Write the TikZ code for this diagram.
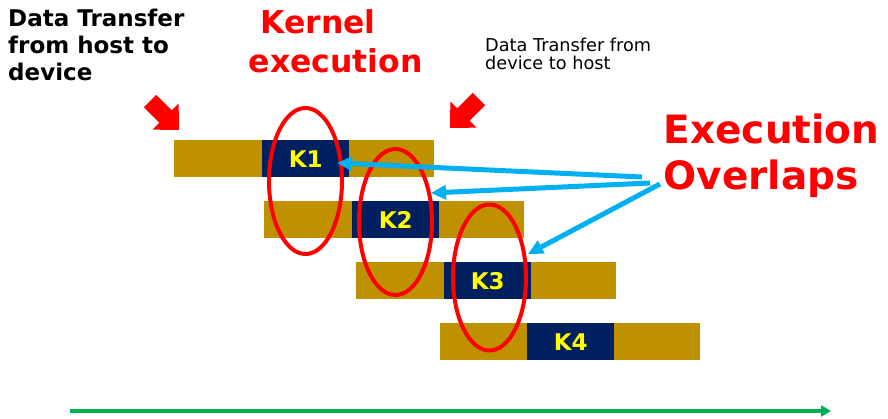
\documentclass[tikz,border=0pt]{standalone}
\usepackage{fontspec}
\setmainfont{DejaVu Sans}
\usetikzlibrary{arrows.meta, shapes.geometric}
\definecolor{BarGold}{RGB}{191, 144, 0}
\definecolor{KernelNavy}{RGB}{0, 32, 96}
\definecolor{KernelYellow}{RGB}{255, 255, 0}
\definecolor{OverlapRed}{RGB}{255, 0, 0}
\definecolor{PointerBlue}{RGB}{0, 176, 240}
\definecolor{TimeGreen}{RGB}{0, 176, 80}

\begin{document}
\begin{tikzpicture}[
        x=1pt, y=-1pt,
        bar/.style={fill=BarGold, minimum width=260pt, minimum height=37pt, inner sep=0pt, anchor=north west},
        kern/.style={fill=KernelNavy, text=KernelYellow, font=\fontsize{23}{27}\selectfont\bfseries, minimum width=87pt, minimum height=37pt, inner sep=0pt, anchor=north west},
        overlap/.style={ellipse, draw=OverlapRed, line width=4pt, minimum width=73pt, minimum height=146pt, inner sep=0pt},
        pointer/.style={draw=PointerBlue, line width=5pt, -{Triangle[length=15pt, width=14pt]}},
        timeline/.style={draw=TimeGreen, line width=4pt, -{Triangle[length=10pt, width=11pt]}},
        note/.style={inner sep=0pt, anchor=north west, align=left},
        blockarrow/.pic={\fill[OverlapRed] (0,0) -- (-19,18.5) -- (-19,8.8) -- (-41,8.8) -- (-41,-8.8) -- (-19,-8.8) -- (-19,-18.5) -- cycle;}
    ]
        \useasboundingbox (0,0) rectangle (888,419);

        % transfer bars with kernels
        \foreach \gx/\kx [count=\i] in {174/262, 264/352, 356/444, 440/527} {
            \node[bar] (bar\i) at (\gx, {140+61*(\i-1)}) {};
            \node[kern] (k\i) at (\kx, {140+61*(\i-1)}) {K\i};
        }

        % overlap rings
        \node[overlap] (ov1) at (305.5,181) {};
        \node[overlap] (ov2) at (395.5,222) {};
        \node[overlap] (ov3) at (489.5,277.5) {};

        % captions
        \node[note, font=\fontsize{23}{27}\selectfont\bfseries] (h2d) at (8,8.5) {Data Transfer\\from host to\\device};
        \node[note, text=OverlapRed, font=\fontsize{31.5}{39}\selectfont\bfseries] (kernel) at (248.5,9) {\hspace*{11.6pt}Kernel\\execution};
        \node[note, font=\fontsize{17.7}{18.5}\selectfont] (d2h) at (485,37.5) {Data Transfer from\\device to host};
        \node[note, text=OverlapRed, font=\fontsize{39}{46}\selectfont\bfseries] (overlaps) at (663.5,113.4) {Execution\\Overlaps};

        \pic[rotate=-45] (inarrow) at (179,130) {blockarrow};
        \pic[rotate=-135] (outarrow) at (450,128) {blockarrow};

        % pointers to the overlaps
        \coordinate (src1) at (642,177);
        \coordinate (src2) at (650,183);
        \coordinate (src3) at (660,184);
        \coordinate (tip1) at (337,163);
        \coordinate (tip2) at (431,193);
        \coordinate (tip3) at (528,254);
        \draw[pointer] (src1) -- (tip1);
        \draw[pointer] (src2) -- (tip2);
        \draw[pointer] (src3) -- (tip3);

        % time axis
        \coordinate (t0) at (70,411);
        \coordinate (t1) at (831,411);
        \draw[timeline] (t0) -- (t1);
    \end{tikzpicture}
\end{document}
